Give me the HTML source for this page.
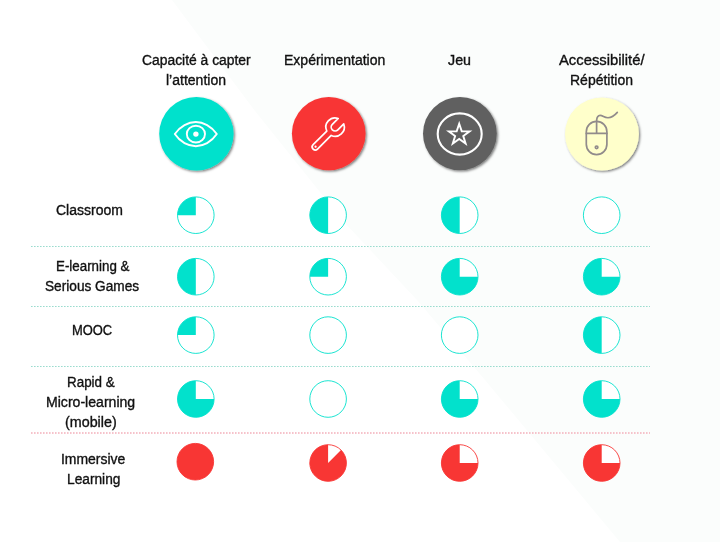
<!DOCTYPE html>
<html><head><meta charset="utf-8"><title>Comparatif</title>
<style>
html,body{margin:0;padding:0;background:#fff}
body{width:720px;height:542px;position:relative;overflow:hidden;font-family:"Liberation Sans",sans-serif;font-size:14px;color:#111;-webkit-text-stroke:0.35px #111}
svg{position:absolute;left:0;top:0}
.t{position:absolute;transform-origin:0 0;white-space:nowrap;line-height:20px;height:20px}
</style></head><body>
<svg width="720" height="542" viewBox="0 0 720 542">
<polygon points="172,0 720,0 720,542 620,542 485,380 417,300 344,222 255,111" fill="#fbfdfc"/>
<line x1="31" y1="246.5" x2="650" y2="246.5" stroke="#9bdccf" stroke-width="1" stroke-dasharray="1.6 1.4"/>
<line x1="31" y1="306.5" x2="650" y2="306.5" stroke="#9bdccf" stroke-width="1" stroke-dasharray="1.6 1.4"/>
<line x1="31" y1="366.5" x2="650" y2="366.5" stroke="#9bdccf" stroke-width="1" stroke-dasharray="1.6 1.4"/>
<line x1="31" y1="432.9" x2="650" y2="432.9" stroke="#f4b0bb" stroke-width="1.5" stroke-dasharray="1.6 1.4"/>
<circle cx="195.8" cy="215.2" r="18.3" fill="#fff" stroke="#02e1cc" stroke-width="0.9"/><path d="M195.8 215.2 L195.8 196.9 A18.3 18.3 0 0 0 177.500 215.200 Z" fill="#02e1cc"/>
<circle cx="328.1" cy="215.2" r="18.3" fill="#fff" stroke="#02e1cc" stroke-width="0.9"/><path d="M328.1 215.2 L328.1 196.9 A18.3 18.3 0 0 0 328.100 233.500 Z" fill="#02e1cc"/>
<circle cx="459.7" cy="215.2" r="18.3" fill="#fff" stroke="#02e1cc" stroke-width="0.9"/><path d="M459.7 215.2 L459.7 196.9 A18.3 18.3 0 0 0 459.700 233.500 Z" fill="#02e1cc"/>
<circle cx="601.7" cy="215.2" r="18.3" fill="#fff" stroke="#02e1cc" stroke-width="0.9"/>
<circle cx="195.8" cy="276.7" r="18.3" fill="#fff" stroke="#02e1cc" stroke-width="0.9"/><path d="M195.8 276.7 L195.8 258.4 A18.3 18.3 0 0 0 195.800 295.000 Z" fill="#02e1cc"/>
<circle cx="328.1" cy="276.7" r="18.3" fill="#fff" stroke="#02e1cc" stroke-width="0.9"/><path d="M328.1 276.7 L328.1 258.4 A18.3 18.3 0 0 0 309.800 276.700 Z" fill="#02e1cc"/>
<circle cx="459.7" cy="276.7" r="18.3" fill="#fff" stroke="#02e1cc" stroke-width="0.9"/><path d="M459.7 276.7 L459.7 258.4 A18.3 18.3 0 1 0 478.000 276.700 Z" fill="#02e1cc"/>
<circle cx="601.7" cy="276.7" r="18.3" fill="#fff" stroke="#02e1cc" stroke-width="0.9"/><path d="M601.7 276.7 L601.7 258.4 A18.3 18.3 0 1 0 620.000 276.700 Z" fill="#02e1cc"/>
<circle cx="195.8" cy="335.1" r="18.3" fill="#fff" stroke="#02e1cc" stroke-width="0.9"/><path d="M195.8 335.1 L195.8 316.8 A18.3 18.3 0 0 0 177.500 335.100 Z" fill="#02e1cc"/>
<circle cx="328.1" cy="335.1" r="18.3" fill="#fff" stroke="#02e1cc" stroke-width="0.9"/>
<circle cx="459.7" cy="335.1" r="18.3" fill="#fff" stroke="#02e1cc" stroke-width="0.9"/>
<circle cx="601.7" cy="335.1" r="18.3" fill="#fff" stroke="#02e1cc" stroke-width="0.9"/><path d="M601.7 335.1 L601.7 316.8 A18.3 18.3 0 0 0 601.700 353.400 Z" fill="#02e1cc"/>
<circle cx="195.8" cy="399" r="18.3" fill="#fff" stroke="#02e1cc" stroke-width="0.9"/><path d="M195.8 399 L195.8 380.7 A18.3 18.3 0 1 0 214.100 399.000 Z" fill="#02e1cc"/>
<circle cx="328.1" cy="399" r="18.3" fill="#fff" stroke="#02e1cc" stroke-width="0.9"/>
<circle cx="459.7" cy="399" r="18.3" fill="#fff" stroke="#02e1cc" stroke-width="0.9"/><path d="M459.7 399 L459.7 380.7 A18.3 18.3 0 1 0 478.000 399.000 Z" fill="#02e1cc"/>
<circle cx="601.7" cy="399" r="18.3" fill="#fff" stroke="#02e1cc" stroke-width="0.9"/><path d="M601.7 399 L601.7 380.7 A18.3 18.3 0 1 0 620.000 399.000 Z" fill="#02e1cc"/>
<circle cx="195.3" cy="461.7" r="18.3" fill="#f83634" stroke="#f83634" stroke-width="0.9"/>
<circle cx="328.1" cy="463" r="18.3" fill="#fff" stroke="#f83634" stroke-width="0.9"/><path d="M328.1 463 L328.1 444.7 A18.3 18.3 0 1 0 341.040 450.060 Z" fill="#f83634"/>
<circle cx="459.7" cy="463" r="18.3" fill="#fff" stroke="#f83634" stroke-width="0.9"/><path d="M459.7 463 L459.7 444.7 A18.3 18.3 0 1 0 478.000 463.000 Z" fill="#f83634"/>
<circle cx="601.7" cy="463" r="18.3" fill="#fff" stroke="#f83634" stroke-width="0.9"/><path d="M601.7 463 L601.7 444.7 A18.3 18.3 0 1 0 620.000 463.000 Z" fill="#f83634"/>
<defs><filter id="sh" x="-20%" y="-20%" width="150%" height="150%"><feDropShadow dx="1.3" dy="1.3" stdDeviation="1.25" flood-color="#000" flood-opacity="0.5"/></filter></defs>
<ellipse cx="196.4" cy="133.8" rx="37.2" ry="36.8" fill="#02e1cc" filter="url(#sh)"/>
<ellipse cx="328.75" cy="133.6" rx="36.85" ry="36.6" fill="#f83634" filter="url(#sh)"/>
<ellipse cx="459.9" cy="133.6" rx="36.9" ry="36.6" fill="#616161" filter="url(#sh)"/>
<ellipse cx="601.95" cy="134" rx="36.95" ry="36.6" fill="#ffffcb" filter="url(#sh)"/>
<g fill="none" stroke="#fff" stroke-width="1.9" stroke-linejoin="round"><path d="M174.8 134.1 C180 126.2 188.5 122 195.800 122 C203.1 122 211.6 126.2 216.800 134.1 C211.6 142 203.1 146.2 195.800 146.2 C188.5 146.2 180 142 174.8 134.1 Z"/><ellipse cx="195.9" cy="134.1" rx="9.1" ry="8.4"/></g><circle cx="195.9" cy="134.1" r="2.7" fill="#fff"/>
<g transform="translate(335.1 127.1) rotate(-45)"><path d="M-28.00 -3.10 L-8.66 -3.10 A9.2 9.2 0 0 1 8.33 -3.90 L0 -3.90 A3.9 3.9 0 0 0 0 3.90 L8.33 3.90 A9.2 9.2 0 0 1 -8.66 3.10 L-28.00 3.10 A3.1 3.1 0 0 1 -28.00 -3.10 Z" fill="none" stroke="#fff" stroke-width="1.7" stroke-linejoin="round"/><circle cx="-27.600" cy="0" r="1.1" fill="#fff"/></g>
<ellipse cx="459.7" cy="134" rx="22.0" ry="20.6" fill="none" stroke="#fff" stroke-width="2.1"/>
<polygon points="459.20,123.80 461.73,131.22 469.57,131.33 463.29,136.03 465.61,143.52 459.20,139.00 452.79,143.52 455.11,136.03 448.83,131.33 456.67,131.22" fill="none" stroke="#fff" stroke-width="1.95"/>
<g fill="none" stroke="#918b8b" stroke-width="1.7" stroke-linecap="round"><rect x="586.3" y="121.4" width="20.6" height="33.2" rx="10.3" ry="10.3"/><path d="M586.3 133.4H606.900M596.6 133.4V121.6 C596.6 114.5 600 114.500 603.500 116.5 C608 119 612 118.500 617.3 112.4"/><circle cx="596.6" cy="147.3" r="1.3"/></g>
</svg>
<div class="t" style="left:142.0px;top:50.4px;transform:scaleX(0.9906)">Capacité à capter</div>
<div class="t" style="left:166.0px;top:70.4px;transform:scaleX(1.0010)">l’attention</div>
<div class="t" style="left:283.7px;top:50.4px;transform:scaleX(1.0013)">Expérimentation</div>
<div class="t" style="left:448.0px;top:50.4px;transform:scaleX(1.0187)">Jeu</div>
<div class="t" style="left:559.0px;top:50.4px;transform:scaleX(1.0566)">Accessibilité/</div>
<div class="t" style="left:570.0px;top:70.4px;transform:scaleX(0.9993)">Répétition</div>
<div class="t" style="left:56.0px;top:200.1px;transform:scaleX(0.9999)">Classroom</div>
<div class="t" style="left:56.0px;top:255.5px;transform:scaleX(0.9527)">E-learning &amp;</div>
<div class="t" style="left:45.4px;top:275.8px;transform:scaleX(0.9753)">Serious Games</div>
<div class="t" style="left:72.0px;top:320.1px;transform:scaleX(0.9228)">MOOC</div>
<div class="t" style="left:66.5px;top:372.1px;transform:scaleX(0.9576)">Rapid &amp;</div>
<div class="t" style="left:45.8px;top:391.7px;transform:scaleX(1.0056)">Micro-learning</div>
<div class="t" style="left:64.5px;top:412.4px;transform:scaleX(1.0222)">(mobile)</div>
<div class="t" style="left:61.0px;top:448.7px;transform:scaleX(0.9959)">Immersive</div>
<div class="t" style="left:66.5px;top:468.6px;transform:scaleX(0.9798)">Learning</div>
</body></html>
